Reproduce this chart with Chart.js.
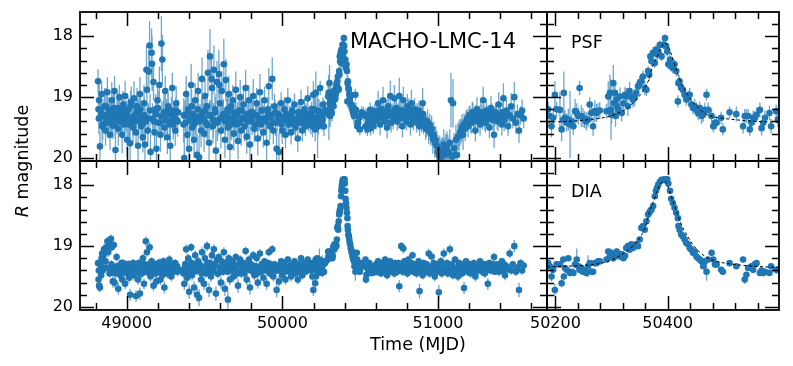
<!DOCTYPE html>
<html>
<head>
<meta charset="utf-8">
<script src="https://cdn.jsdelivr.net/npm/chart.js@4.4.1/dist/chart.umd.min.js"></script>
<style>
html, body { margin: 0; padding: 0; background: #fff; }
#wrap { position: relative; width: 793px; height: 366px; }
#wrap canvas { position: absolute; left: 0; top: 0; }
</style>
</head>
<body>
<div id="wrap">
  <canvas id="psfWide" width="793" height="366"></canvas>
  <canvas id="psfZoom" width="793" height="366"></canvas>
  <canvas id="diaWide" width="793" height="366"></canvas>
  <canvas id="diaZoom" width="793" height="366"></canvas>
</div>
<script>

//////////////////////// data ////////////////////////

// epochs (MJD), shared by the PSF and DIA light curves
var mjd = [
  // first season
  48816, 48819, 48823, 48828, 48833, 48839, 48846, 48851, 48857, 48864,
  48870, 48876, 48881, 48887, 48893, 48899, 48904, 48911, 48917, 48922,
  48928, 48935, 48941, 48946, 48953, 48960, 48966, 48971, 48978, 48984,
  48990, 48997, 49003, 49010, 49016, 49022, 49029, 49035, 49041, 49047,
  49054, 49060, 49066, 49073, 49079, 49085, 49092, 49098, 49104, 49111,
  49117, 49123, 49130, 49136, 49142, 49147, 49153, 49160, 49166, 49172,
  49179, 49185, 49191, 49198, 49204, 49210, 49217, 49223, 49229, 49236,
  49242, 49248, 49255, 49261, 49267, 49274, 49280, 49287, 49293, 49299,
  49306, 49312, 49318, 49324, 49330,
  // after the gap
  49365, 49370, 49376, 49382, 49389, 49395, 49401, 49408, 49414, 49420,
  49427, 49433, 49440, 49446, 49452, 49459, 49465, 49471, 49478, 49484,
  49490, 49497, 49503, 49509, 49516, 49522, 49529, 49535, 49541, 49548,
  49554, 49560, 49567, 49573, 49580, 49586, 49592, 49599, 49605, 49611,
  49618, 49624, 49631, 49637, 49643, 49650, 49656, 49663, 49669, 49675,
  49682, 49688, 49695, 49701, 49708, 49715, 49722, 49729, 49736, 49743,
  49750, 49757, 49764, 49771, 49778, 49785, 49792, 49799, 49806, 49813,
  49820, 49828, 49835, 49842, 49849, 49856, 49863, 49870, 49878, 49885,
  49892, 49899, 49906, 49913, 49920, 49928, 49935, 49942, 49949, 49956,
  49963, 49970, 49978, 49985, 49992, 49999, 50006, 50013, 50020, 50028,
  50035, 50042, 50049, 50056, 50063, 50070, 50078, 50085, 50092, 50099,
  50106, 50113, 50120, 50128, 50135, 50142, 50149, 50156, 50163, 50170,
  50177, 50182,
  // the event
  50187, 50190, 50193, 50196, 50199, 50202, 50208, 50211, 50214, 50215,
  50217, 50220, 50223, 50226, 50229, 50232, 50235, 50238, 50241, 50243,
  50246, 50249, 50252, 50255, 50258, 50261, 50264, 50267, 50270, 50273,
  50276, 50279, 50291, 50294, 50297, 50299, 50300, 50303, 50304, 50306,
  50307, 50309, 50310, 50312, 50315, 50318, 50321, 50324, 50326, 50329,
  50332, 50335, 50338, 50341, 50344, 50347, 50350, 50353, 50356, 50359,
  50362, 50365, 50367, 50369, 50371, 50374, 50377, 50379, 50381, 50383,
  50386, 50389, 50392, 50395, 50397, 50399, 50401, 50404, 50406, 50409,
  50412, 50415, 50418, 50419, 50421, 50424, 50427, 50430, 50433, 50436,
  50439, 50442, 50445, 50448, 50451, 50454, 50457, 50460, 50463, 50466,
  50469, 50472, 50478, 50481, 50484, 50487, 50495, 50498, 50510, 50522,
  50534, 50537, 50540, 50543, 50546, 50549, 50552, 50555, 50558, 50564,
  50567, 50570, 50573, 50581, 50584, 50593, 50596,
  // after the event
  50602, 50608, 50615, 50621, 50628, 50634, 50641, 50647, 50654, 50660,
  50667, 50673, 50680, 50686, 50693, 50699, 50706, 50712, 50719, 50725,
  50732, 50738, 50745, 50751, 50758, 50764, 50771, 50777, 50784, 50790,
  50797, 50803, 50810, 50816, 50823, 50829, 50836, 50842, 50849, 50855,
  50862, 50868, 50875, 50881, 50888, 50894, 50901, 50907, 50914, 50920,
  50927, 50933, 50940, 50946, 50953, 50959, 50966, 50972, 50979, 50985,
  50992, 50998, 51005, 51011, 51018, 51024, 51031, 51037, 51044, 51050,
  51057, 51063, 51070, 51076, 51083, 51089, 51096, 51102, 51109, 51115,
  51122, 51128, 51135, 51141, 51148, 51154, 51161, 51167, 51174, 51180,
  51187, 51193, 51200, 51210, 51220, 51230, 51240, 51250, 51260, 51270,
  51280, 51290, 51300, 51310, 51320, 51330, 51340, 51350, 51360, 51370,
  51380, 51390, 51400, 51410, 51420, 51430, 51440, 51450, 51460, 51470,
  51480, 51490, 51500, 51510, 51520, 51530, 51540, 51550,
  // interleaved epochs (second look per night, baseline only)
  48821, 48831, 48842, 48854, 48867, 48879, 48890, 48902, 48914, 48925,
  48938, 48949, 48963, 48975, 48987, 49000, 49013, 49025, 49038, 49050,
  49063, 49076, 49088, 49101, 49114, 49127, 49139, 49150, 49163, 49176,
  49188, 49201, 49213, 49226, 49239, 49251, 49264, 49277, 49290, 49302,
  49315, 49327, 48836, 48958, 49070,
  49367, 49379, 49392, 49404, 49417, 49430, 49443, 49456, 49468, 49481,
  49494, 49506, 49519, 49532, 49545, 49557, 49570, 49583, 49596, 49608,
  49621, 49634, 49647, 49660, 49672, 49685, 49698, 49712, 49725, 49739,
  49753, 49767, 49781, 49795, 49809, 49824, 49838, 49852, 49867, 49881,
  49896, 49910, 49924, 49938, 49953, 49967, 49981, 49995, 50010, 50024,
  50038, 50053, 50067, 50081, 50096, 50110, 50124, 50138, 50152, 50166,
  50605, 50618, 50631, 50644, 50657, 50670, 50683, 50696, 50709, 50722,
  50735, 50748, 50761, 50774, 50787, 50800, 50813, 50826, 50839, 50852,
  50865, 50878, 50891, 50904, 50917, 51195, 51205, 51215, 51225, 51235,
  51245, 51255, 51265, 51275, 51285, 51295, 51305, 51315, 51325, 51335,
  51345, 51355, 51365, 51375, 51385, 51395, 51405, 51415, 51425, 51435
];

var psfMag = [
  18.74, 19.20, 19.05, 19.81, 19.32, 18.95, 19.45, 19.30, 19.15, 19.55,
  19.38, 18.92, 19.40, 19.22, 19.62, 19.30, 19.05, 19.47, 19.28, 18.90,
  19.87, 19.35, 19.18, 19.52, 19.00, 19.40, 19.27, 19.62, 19.12, 19.45,
  18.98, 19.33, 19.70, 19.20, 19.42, 19.76, 19.08, 19.35, 19.50, 19.02,
  19.30, 19.58, 19.15, 19.80, 19.25, 18.95, 19.48, 19.33, 19.66, 19.10,
  19.78, 19.40, 18.88, 19.55, 18.58, 18.15, 19.90, 18.27, 19.35, 18.75,
  19.58, 19.20, 19.85, 19.05, 19.42, 18.80, 19.62, 18.12, 18.38, 19.30,
  19.50, 18.90, 19.28, 19.66, 19.15, 19.40, 19.80, 19.22, 18.85, 19.45,
  19.32, 19.55, 19.10, 19.38, 19.25,

  19.45, 20.00, 19.30, 18.95, 19.62, 19.20, 19.85, 19.35, 18.80, 19.50,
  19.28, 19.70, 19.05, 19.40, 19.95, 18.90, 19.99, 19.33, 19.55, 18.70,
  19.25, 19.60, 18.98, 19.42, 19.15, 18.60, 19.75, 18.33, 19.30, 18.85,
  19.48, 18.55, 19.20, 19.88, 18.75, 19.38, 18.62, 19.10, 19.55, 18.90,
  19.35, 18.46, 19.70, 18.72, 19.28, 19.50, 18.95, 19.82, 19.15, 19.40,
  19.05, 19.60, 19.30, 18.88, 19.45, 19.72, 19.22, 19.00, 19.55, 19.35,
  19.12, 19.48, 18.85, 19.65, 19.30, 19.05, 19.78, 19.25, 19.40, 18.98,
  19.52, 19.30, 19.10, 19.68, 19.35, 18.92, 19.45, 19.22, 19.58, 19.05,
  19.38, 19.75, 19.20, 18.82, 19.48, 19.30, 18.70, 19.55, 19.15, 19.42,
  19.85, 19.28, 19.90, 19.40, 19.10, 19.55, 19.33, 19.20, 19.62, 19.38,
  19.05, 19.45, 19.30, 19.58, 19.22, 19.40, 19.12, 19.50, 19.35, 19.68,
  19.25, 19.42, 19.08, 19.55, 19.30, 19.20, 19.48, 19.35, 19.02, 19.40,
  19.28, 19.45,

  19.20, 19.31, 19.48, 19.34, 18.96, 19.20, 19.21, 19.53, 19.37, 18.93,
  19.34, 19.42, 19.37, 19.45, 19.40, 19.48, 19.23, 19.26, 19.31, 18.85,
  19.31, 19.34, 19.37, 19.40, 19.37, 19.12, 19.26, 19.48, 19.23, 19.26,
  19.23, 19.22, 19.23, 18.99, 18.93, 19.21, 19.29, 18.77, 19.10, 18.93,
  19.31, 19.04, 19.15, 19.21, 18.99, 19.26, 19.10, 18.96, 18.99, 19.15,
  18.90, 18.99, 19.04, 19.01, 18.93, 18.82, 18.77, 18.74, 18.66, 18.85,
  18.88, 18.57, 18.63, 18.33, 18.41, 18.27, 18.44, 18.22, 18.30, 18.25,
  18.14, 18.33, 18.14, 18.03, 18.16, 18.25, 18.46, 18.38, 18.49, 18.52,
  18.46, 18.57, 19.07, 18.77, 18.74, 18.85, 18.88, 18.96, 19.04, 18.99,
  18.96, 19.12, 19.18, 19.15, 19.21, 19.26, 19.18, 19.31, 19.29, 19.21,
  18.96, 19.21, 19.31, 19.48, 19.42, 19.42, 19.34, 19.53, 19.25, 19.28,
  19.48, 19.31, 19.31, 19.31, 19.53, 19.42, 19.34, 19.34, 19.29, 19.21,
  19.51, 19.42, 19.34, 19.26, 19.48, 19.23, 19.37,

  19.38, 19.25, 19.10, 19.30, 19.45, 19.20, 19.35, 19.05, 19.28, 19.40,
  19.22, 19.50, 19.15, 19.30, 18.98, 19.42, 19.25, 19.35, 19.02, 19.30,
  19.18, 19.40, 19.28, 18.98, 19.35, 19.22, 19.48, 19.05, 19.30, 19.25,
  19.40, 19.15, 19.32, 19.22, 19.45, 19.10, 19.28, 19.38, 19.20, 19.30,
  19.42, 19.25, 19.35, 19.48, 19.30, 19.40, 19.10, 19.45, 19.38, 19.52,
  19.48, 19.40, 19.55, 19.45, 19.60, 19.52, 19.68, 19.62, 19.75, 19.70,
  19.80, 19.90, 19.95, 19.85, 20.00, 19.92, 19.88, 19.78, 19.95, 19.82,
  19.81, 19.90, 19.92, 19.75, 19.05, 19.98, 19.10, 19.84, 19.95, 19.70,
  19.95, 19.65, 19.64, 19.58, 19.56, 19.50, 19.62, 19.45, 19.52, 19.40,
  19.35, 19.48, 19.30, 19.42, 19.25, 19.38, 19.55, 19.20, 19.32, 19.45,
  19.28, 19.05, 19.40, 19.22, 19.35, 19.50, 19.18, 19.30, 19.62, 19.25,
  19.38, 19.12, 19.30, 19.45, 19.02, 19.35, 19.22, 19.48, 19.30, 19.15,
  19.35, 19.00, 19.42, 19.28, 19.55, 19.30, 19.22, 19.35,

  19.35, 19.22, 19.48, 19.30, 19.15, 19.42, 19.28, 19.38, 19.18, 19.45,
  19.32, 19.25, 19.40, 19.20, 19.36, 19.28, 19.45, 19.15, 19.33, 19.40,
  19.26, 19.38, 19.20, 19.44, 19.30, 18.55, 19.35, 19.22, 18.45, 19.40,
  19.28, 19.18, 19.42, 19.32, 19.25, 19.38, 19.20, 19.45, 19.30, 19.35,
  19.22, 19.40, 19.28, 19.35, 19.20,
  19.30, 19.42, 19.25, 19.38, 19.15, 19.45, 19.32, 19.20, 19.40, 19.28,
  19.35, 19.22, 19.46, 19.30, 18.70, 19.38, 19.25, 19.42, 18.80, 19.33,
  19.28, 19.40, 19.20, 19.35, 19.45, 19.25, 19.38, 19.30, 19.42, 19.22,
  19.36, 19.28, 19.40, 19.32, 19.25, 19.45, 19.30, 19.38, 19.22, 19.35,
  19.40, 19.28, 19.33, 19.42, 19.25, 19.38, 19.30, 19.45, 19.35, 19.28,
  19.40, 19.32, 19.25, 19.45, 19.35, 19.30, 19.42, 19.36, 19.28, 19.40,
  19.25, 19.32, 19.20, 19.28, 19.35, 19.22, 19.30, 19.26, 19.33, 19.20,
  19.28, 19.35, 19.22, 19.30, 19.25, 19.32, 19.20, 19.28, 19.35, 19.25,
  19.30, 19.22, 19.33, 19.28, 19.40, 19.38, 19.30, 19.42, 19.25, 19.35,
  19.28, 19.40, 19.32, 19.25, 19.38, 19.30, 19.42, 19.28, 19.35, 19.30,
  19.25, 19.38, 19.32, 19.28, 19.40, 19.30, 19.35, 19.25, 19.38, 19.32
];

var psfErr = [
  0.20, 0.25, 0.30, 0.25, 0.20, 0.22, 0.25, 0.20, 0.30, 0.25,
  0.20, 0.25, 0.28, 0.22, 0.25, 0.20, 0.30, 0.22, 0.20, 0.25,
  0.30, 0.22, 0.25, 0.28, 0.20, 0.22, 0.25, 0.30, 0.20, 0.22,
  0.25, 0.25, 0.28, 0.20, 0.22, 0.30, 0.25, 0.20, 0.25, 0.28,
  0.22, 0.25, 0.30, 0.25, 0.22, 0.28, 0.25, 0.20, 0.25, 0.30,
  0.25, 0.22, 0.30, 0.25, 0.35, 0.40, 0.30, 0.40, 0.25, 0.30,
  0.28, 0.25, 0.30, 0.25, 0.22, 0.30, 0.28, 0.45, 0.40, 0.25,
  0.22, 0.25, 0.25, 0.28, 0.22, 0.25, 0.30, 0.22, 0.25, 0.25,
  0.22, 0.25, 0.28, 0.22, 0.20,

  0.30, 0.35, 0.25, 0.30, 0.28, 0.25, 0.32, 0.25, 0.35, 0.28,
  0.25, 0.30, 0.28, 0.25, 0.35, 0.30, 0.35, 0.22, 0.28, 0.35,
  0.25, 0.30, 0.28, 0.25, 0.22, 0.38, 0.30, 0.45, 0.25, 0.32,
  0.28, 0.40, 0.25, 0.35, 0.35, 0.25, 0.40, 0.28, 0.30, 0.32,
  0.25, 0.42, 0.30, 0.35, 0.25, 0.28, 0.30, 0.35, 0.25, 0.28,
  0.25, 0.28, 0.22, 0.30, 0.25, 0.30, 0.22, 0.28, 0.25, 0.22,
  0.22, 0.25, 0.30, 0.28, 0.20, 0.25, 0.30, 0.20, 0.22, 0.28,
  0.22, 0.20, 0.25, 0.28, 0.20, 0.30, 0.22, 0.20, 0.25, 0.22,
  0.20, 0.28, 0.20, 0.30, 0.22, 0.20, 0.35, 0.22, 0.20, 0.22,
  0.30, 0.20, 0.32, 0.20, 0.18, 0.22, 0.18, 0.20, 0.22, 0.18,
  0.20, 0.18, 0.16, 0.20, 0.18, 0.16, 0.18, 0.20, 0.16, 0.22,
  0.18, 0.16, 0.20, 0.18, 0.16, 0.18, 0.16, 0.15, 0.20, 0.16,
  0.15, 0.16,

  0.12, 0.15, 0.18, 0.14, 0.22, 0.13, 0.30, 0.20, 0.16, 0.35,
  0.12, 0.15, 0.18, 0.55, 0.12, 0.14, 0.20, 0.16, 0.14, 0.12,
  0.18, 0.16, 0.14, 0.15, 0.13, 0.12, 0.14, 0.16, 0.18, 0.15,
  0.13, 0.14, 0.12, 0.25, 0.30, 0.50, 0.15, 0.30, 0.20, 0.15,
  0.18, 0.15, 0.16, 0.14, 0.15, 0.14, 0.15, 0.13, 0.14, 0.16,
  0.15, 0.14, 0.13, 0.14, 0.12, 0.12, 0.12, 0.10, 0.10, 0.12,
  0.10, 0.08, 0.10, 0.10, 0.08, 0.10, 0.08, 0.08, 0.09, 0.08,
  0.07, 0.08, 0.07, 0.06, 0.07, 0.08, 0.08, 0.08, 0.09, 0.09,
  0.08, 0.09, 0.10, 0.10, 0.09, 0.09, 0.10, 0.09, 0.10, 0.10,
  0.11, 0.10, 0.11, 0.12, 0.12, 0.12, 0.11, 0.13, 0.12, 0.12,
  0.10, 0.12, 0.12, 0.10, 0.11, 0.10, 0.10, 0.10, 0.10, 0.12,
  0.12, 0.12, 0.11, 0.12, 0.11, 0.13, 0.12, 0.11, 0.12, 0.12,
  0.12, 0.11, 0.12, 0.12, 0.12, 0.11, 0.12,

  0.15, 0.18, 0.20, 0.15, 0.18, 0.16, 0.15, 0.22, 0.16, 0.15,
  0.16, 0.18, 0.20, 0.15, 0.25, 0.16, 0.15, 0.18, 0.22, 0.15,
  0.16, 0.15, 0.18, 0.30, 0.16, 0.15, 0.18, 0.22, 0.15, 0.16,
  0.15, 0.20, 0.16, 0.15, 0.18, 0.22, 0.15, 0.16, 0.18, 0.15,
  0.16, 0.15, 0.18, 0.16, 0.15, 0.18, 0.25, 0.16, 0.15, 0.18,
  0.18, 0.20, 0.22, 0.18, 0.20, 0.22, 0.25, 0.22, 0.25, 0.22,
  0.25, 0.28, 0.25, 0.22, 0.30, 0.25, 0.22, 0.25, 0.28, 0.22,
  0.25, 0.28, 0.25, 0.22, 0.45, 0.28, 0.40, 0.25, 0.28, 0.25,
  0.28, 0.22, 0.25, 0.22, 0.20, 0.22, 0.25, 0.18, 0.20, 0.18,
  0.16, 0.18, 0.15, 0.16, 0.18, 0.15, 0.18, 0.20, 0.15, 0.18,
  0.16, 0.22, 0.15, 0.18, 0.16, 0.18, 0.20, 0.15, 0.22, 0.16,
  0.15, 0.20, 0.16, 0.18, 0.25, 0.15, 0.18, 0.16, 0.15, 0.22,
  0.16, 0.25, 0.18, 0.16, 0.20, 0.15, 0.18, 0.16,

  0.25, 0.22, 0.28, 0.25, 0.30, 0.22, 0.25, 0.28, 0.25, 0.22,
  0.28, 0.25, 0.22, 0.30, 0.25, 0.22, 0.28, 0.25, 0.30, 0.22,
  0.25, 0.28, 0.22, 0.25, 0.30, 0.40, 0.25, 0.28, 0.45, 0.22,
  0.25, 0.28, 0.22, 0.25, 0.30, 0.22, 0.25, 0.28, 0.22, 0.25,
  0.22, 0.25, 0.28, 0.22, 0.25,
  0.28, 0.25, 0.30, 0.25, 0.28, 0.25, 0.30, 0.28, 0.25, 0.28,
  0.25, 0.30, 0.28, 0.25, 0.35, 0.28, 0.25, 0.30, 0.35, 0.25,
  0.25, 0.22, 0.25, 0.22, 0.25, 0.22, 0.20, 0.22, 0.25, 0.22,
  0.20, 0.22, 0.20, 0.22, 0.20, 0.22, 0.20, 0.18, 0.20, 0.22,
  0.20, 0.18, 0.20, 0.18, 0.20, 0.18, 0.18, 0.20, 0.18, 0.18,
  0.18, 0.16, 0.18, 0.16, 0.18, 0.16, 0.15, 0.16, 0.18, 0.15,
  0.16, 0.15, 0.18, 0.15, 0.16, 0.18, 0.15, 0.16, 0.15, 0.18,
  0.15, 0.16, 0.18, 0.16, 0.15, 0.16, 0.18, 0.15, 0.16, 0.15,
  0.18, 0.16, 0.15, 0.18, 0.16, 0.15, 0.16, 0.18, 0.15, 0.16,
  0.16, 0.15, 0.18, 0.16, 0.15, 0.18, 0.16, 0.15, 0.16, 0.18,
  0.15, 0.18, 0.16, 0.15, 0.16, 0.18, 0.15, 0.16, 0.18, 0.15
];

var diaMag = [
  19.28, 19.55, 19.65, 19.68, 19.32, 19.20, 19.40, 19.15, 19.05, 19.25,
  19.02, 18.92, 19.10, 18.95, 19.38, 18.88, 19.02, 19.58, 18.98, 19.60,
  19.45, 19.18, 19.40, 19.70, 19.35, 19.48, 19.28, 19.55, 19.40, 19.35,
  19.62, 19.30, 19.45, 19.38, 19.52, 19.80, 19.33, 19.42, 19.28, 19.48,
  19.35, 19.82, 19.40, 19.55, 19.36, 19.78, 19.30, 19.45, 19.20, 19.62,
  19.38, 18.92, 19.10, 19.42, 19.30, 19.02, 19.50, 19.25, 19.38, 19.65,
  19.32, 19.45, 19.58, 19.35, 19.28, 19.40, 19.55, 19.33, 19.48, 19.25,
  19.68, 19.38, 19.30, 19.45, 19.40, 19.22, 19.35, 19.50, 19.30, 19.42,
  19.35, 19.28, 19.40, 19.33, 19.38,

  19.45, 19.62, 19.30, 19.05, 19.52, 19.20, 19.75, 19.38, 19.02, 19.48,
  19.30, 19.68, 19.15, 19.40, 19.80, 19.25, 19.85, 19.35, 19.55, 19.10,
  19.38, 19.62, 19.20, 19.45, 19.00, 19.33, 19.72, 19.28, 19.50, 19.15,
  19.40, 19.05, 19.30, 19.78, 19.22, 19.45, 19.18, 19.35, 19.60, 19.25,
  19.42, 19.10, 19.70, 19.28, 19.38, 19.88, 19.20, 19.55, 19.30, 19.40,
  19.25, 19.50, 19.35, 19.18, 19.42, 19.65, 19.30, 19.22, 19.45, 19.38,
  19.28, 19.45, 19.08, 19.55, 19.35, 19.22, 19.68, 19.30, 19.40, 19.15,
  19.48, 19.33, 19.20, 19.60, 19.35, 19.12, 19.42, 19.30, 19.52, 19.25,
  19.38, 19.62, 19.28, 19.10, 19.45, 19.35, 19.05, 19.50, 19.30, 19.40,
  19.72, 19.33, 19.58, 19.40, 19.25, 19.48, 19.35, 19.28, 19.55, 19.38,
  19.22, 19.42, 19.35, 19.50, 19.30, 19.40, 19.25, 19.45, 19.38, 19.55,
  19.30, 19.40, 19.20, 19.48, 19.35, 19.28, 19.42, 19.36, 19.22, 19.38,
  19.32, 19.40,

  19.28, 19.33, 19.50, 19.39, 19.72, 19.30, 19.30, 19.61, 19.22, 19.50,
  19.36, 19.39, 19.20, 19.44, 19.42, 19.44, 19.30, 19.22, 19.33, 19.39,
  19.36, 19.42, 19.40, 19.44, 19.33, 19.28, 19.42, 19.42, 19.28, 19.28,
  19.25, 19.25, 19.22, 19.09, 19.17, 19.11, 19.14, 19.20, 19.17, 19.17,
  19.14, 19.09, 19.11, 19.14, 19.17, 19.13, 19.20, 19.16, 19.03, 19.00,
  19.06, 18.97, 19.03, 19.00, 18.97, 19.00, 18.89, 18.70, 18.67, 18.73,
  18.59, 18.48, 18.45, 18.42, 18.40, 18.34, 18.18, 18.09, 18.04, 17.99,
  17.94, 17.91, 17.91, 17.90, 17.92, 17.90, 17.97, 18.09, 18.22, 18.29,
  18.37, 18.45, 18.54, 18.67, 18.73, 18.81, 18.84, 18.89, 18.95, 18.97,
  19.03, 19.06, 19.11, 19.09, 19.17, 19.20, 19.22, 19.25, 19.33, 19.25,
  19.42, 19.22, 19.11, 19.22, 19.30, 19.30, 19.39, 19.42, 19.28, 19.33,
  19.22, 19.55, 19.47, 19.36, 19.35, 19.33, 19.39, 19.30, 19.28, 19.44,
  19.40, 19.44, 19.42, 19.44, 19.33, 19.39, 19.39,

  19.30, 19.42, 19.25, 19.38, 19.33, 19.45, 19.28, 19.40, 19.35, 19.22,
  19.38, 19.48, 19.30, 19.42, 19.25, 19.35, 19.40, 19.30, 19.45, 19.28,
  19.35, 19.42, 19.28, 19.66, 19.32, 19.00, 19.38, 19.04, 19.25, 19.35,
  19.30, 19.45, 19.22, 19.38, 19.40, 19.28, 19.15, 19.42, 19.35, 19.30,
  19.45, 19.38, 19.25, 19.74, 19.40, 19.32, 19.48, 19.28, 19.36, 19.42,
  19.30, 19.38, 19.12, 19.45, 19.35, 19.17, 19.40, 19.28, 19.50, 19.35,
  19.42, 19.30, 19.76, 19.38, 19.25, 19.45, 19.35, 19.12, 19.40, 19.32,
  19.28, 19.45, 19.35, 19.05, 19.40, 19.30, 19.48, 19.36, 19.22, 19.42,
  19.35, 19.50, 19.28, 19.40, 19.33, 19.45, 19.30, 19.69, 19.38, 19.25,
  19.42, 19.35, 19.30, 19.45, 19.38, 19.28, 19.50, 19.35, 19.40, 19.25,
  19.38, 19.30, 19.45, 19.35, 19.62, 19.28, 19.40, 19.32, 19.18, 19.38,
  19.30, 19.42, 19.35, 19.25, 19.40, 19.48, 19.33, 19.38, 19.12, 19.40,
  19.30, 19.00, 19.42, 19.35, 19.72, 19.28, 19.40, 19.32,

  19.40, 19.30, 19.12, 19.05, 19.35, 19.00, 19.45, 19.30, 19.38, 19.42,
  19.33, 19.45, 19.38, 19.28, 19.42, 19.35, 19.30, 19.48, 19.36, 19.32,
  19.40, 19.28, 19.45, 19.35, 19.30, 19.42, 19.38, 19.33, 19.46, 19.30,
  19.36, 19.42, 19.28, 19.40, 19.35, 19.30, 19.45, 19.38, 19.32, 19.40,
  19.35, 19.42, 19.48, 19.40, 19.38,
  19.38, 19.30, 19.45, 19.35, 19.28, 19.42, 19.33, 19.40, 19.30, 19.45,
  19.35, 19.40, 19.28, 19.38, 19.42, 19.33, 19.30, 19.45, 19.36, 19.40,
  19.32, 19.38, 19.42, 19.30, 19.36, 19.40, 19.33, 19.45, 19.30, 19.38,
  19.42, 19.35, 19.30, 19.40, 19.38, 19.33, 19.45, 19.36, 19.30, 19.40,
  19.35, 19.42, 19.30, 19.38, 19.33, 19.40, 19.36, 19.30, 19.42, 19.35,
  19.38, 19.32, 19.40, 19.35, 19.30, 19.42, 19.36, 19.33, 19.38, 19.30,
  19.35, 19.30, 19.40, 19.33, 19.28, 19.42, 19.36, 19.30, 19.38, 19.33,
  19.40, 19.35, 19.30, 19.42, 19.33, 19.38, 19.30, 19.36, 19.40, 19.32,
  19.38, 19.30, 19.35, 19.42, 19.33, 19.36, 19.30, 19.40, 19.35, 19.42,
  19.33, 19.38, 19.30, 19.36, 19.42, 19.35, 19.30, 19.40, 19.33, 19.38,
  19.36, 19.30, 19.42, 19.35, 19.38, 19.32, 19.40, 19.35, 19.30, 19.38
];

var diaErr = [
  0.06, 0.08, 0.10, 0.08, 0.06, 0.07, 0.08, 0.06, 0.07, 0.08,
  0.06, 0.07, 0.08, 0.06, 0.08, 0.07, 0.06, 0.10, 0.07, 0.08,
  0.10, 0.07, 0.08, 0.10, 0.07, 0.08, 0.06, 0.09, 0.07, 0.08,
  0.09, 0.07, 0.08, 0.06, 0.08, 0.10, 0.07, 0.08, 0.07, 0.09,
  0.07, 0.10, 0.08, 0.09, 0.07, 0.10, 0.07, 0.08, 0.07, 0.09,
  0.07, 0.08, 0.08, 0.09, 0.07, 0.08, 0.08, 0.07, 0.08, 0.09,
  0.07, 0.08, 0.09, 0.07, 0.07, 0.08, 0.09, 0.07, 0.08, 0.07,
  0.10, 0.07, 0.07, 0.08, 0.07, 0.07, 0.08, 0.08, 0.07, 0.08,
  0.07, 0.07, 0.08, 0.07, 0.07,

  0.08, 0.10, 0.07, 0.08, 0.09, 0.07, 0.12, 0.08, 0.07, 0.09,
  0.07, 0.10, 0.08, 0.07, 0.12, 0.08, 0.14, 0.07, 0.09, 0.08,
  0.07, 0.10, 0.08, 0.07, 0.08, 0.07, 0.12, 0.07, 0.09, 0.08,
  0.07, 0.08, 0.07, 0.12, 0.07, 0.08, 0.07, 0.07, 0.10, 0.07,
  0.07, 0.08, 0.12, 0.07, 0.07, 0.15, 0.07, 0.09, 0.07, 0.08,
  0.07, 0.09, 0.07, 0.07, 0.08, 0.12, 0.07, 0.07, 0.08, 0.07,
  0.06, 0.08, 0.07, 0.09, 0.06, 0.07, 0.12, 0.06, 0.07, 0.07,
  0.08, 0.06, 0.07, 0.10, 0.06, 0.07, 0.07, 0.06, 0.08, 0.06,
  0.06, 0.10, 0.06, 0.07, 0.07, 0.06, 0.07, 0.08, 0.06, 0.07,
  0.12, 0.06, 0.09, 0.06, 0.06, 0.08, 0.06, 0.06, 0.09, 0.06,
  0.06, 0.07, 0.06, 0.08, 0.06, 0.06, 0.06, 0.07, 0.06, 0.08,
  0.05, 0.06, 0.06, 0.07, 0.05, 0.06, 0.06, 0.05, 0.06, 0.06,
  0.05, 0.06,

  0.05, 0.06, 0.08, 0.05, 0.10, 0.05, 0.04, 0.07, 0.06, 0.05,
  0.05, 0.06, 0.05, 0.06, 0.04, 0.05, 0.05, 0.18, 0.05, 0.06,
  0.07, 0.05, 0.05, 0.06, 0.18, 0.05, 0.05, 0.05, 0.05, 0.04,
  0.05, 0.06, 0.05, 0.06, 0.05, 0.07, 0.05, 0.06, 0.05, 0.05,
  0.06, 0.05, 0.06, 0.05, 0.05, 0.05, 0.04, 0.05, 0.05, 0.05,
  0.04, 0.05, 0.04, 0.04, 0.04, 0.04, 0.04, 0.04, 0.04, 0.04,
  0.03, 0.03, 0.03, 0.03, 0.03, 0.03, 0.03, 0.03, 0.03, 0.03,
  0.03, 0.03, 0.03, 0.03, 0.03, 0.03, 0.03, 0.03, 0.03, 0.03,
  0.03, 0.03, 0.03, 0.03, 0.03, 0.03, 0.03, 0.03, 0.03, 0.03,
  0.03, 0.04, 0.04, 0.04, 0.04, 0.04, 0.04, 0.04, 0.04, 0.05,
  0.15, 0.05, 0.05, 0.05, 0.05, 0.05, 0.05, 0.05, 0.05, 0.05,
  0.05, 0.07, 0.05, 0.05, 0.05, 0.05, 0.05, 0.05, 0.05, 0.05,
  0.05, 0.05, 0.05, 0.05, 0.05, 0.06, 0.06,

  0.06, 0.07, 0.06, 0.06, 0.07, 0.06, 0.06, 0.07, 0.06, 0.06,
  0.06, 0.07, 0.06, 0.06, 0.06, 0.07, 0.06, 0.06, 0.07, 0.06,
  0.06, 0.07, 0.06, 0.10, 0.06, 0.07, 0.06, 0.08, 0.06, 0.06,
  0.06, 0.07, 0.06, 0.06, 0.07, 0.06, 0.06, 0.07, 0.06, 0.06,
  0.07, 0.06, 0.06, 0.12, 0.07, 0.06, 0.07, 0.06, 0.06, 0.07,
  0.06, 0.07, 0.08, 0.07, 0.06, 0.07, 0.06, 0.06, 0.08, 0.06,
  0.07, 0.06, 0.12, 0.06, 0.07, 0.07, 0.06, 0.08, 0.07, 0.06,
  0.06, 0.07, 0.06, 0.08, 0.07, 0.06, 0.07, 0.06, 0.06, 0.07,
  0.06, 0.08, 0.06, 0.07, 0.06, 0.07, 0.06, 0.10, 0.06, 0.06,
  0.07, 0.06, 0.06, 0.07, 0.06, 0.06, 0.08, 0.06, 0.07, 0.06,
  0.06, 0.06, 0.07, 0.06, 0.10, 0.06, 0.07, 0.06, 0.07, 0.06,
  0.06, 0.07, 0.06, 0.06, 0.07, 0.08, 0.06, 0.06, 0.08, 0.07,
  0.06, 0.10, 0.07, 0.06, 0.12, 0.06, 0.07, 0.06,

  0.07, 0.08, 0.07, 0.08, 0.07, 0.08, 0.07, 0.07, 0.08, 0.07,
  0.07, 0.08, 0.07, 0.07, 0.08, 0.07, 0.07, 0.08, 0.07, 0.07,
  0.08, 0.07, 0.07, 0.08, 0.07, 0.07, 0.08, 0.07, 0.07, 0.08,
  0.07, 0.07, 0.08, 0.07, 0.07, 0.08, 0.07, 0.07, 0.08, 0.07,
  0.07, 0.08, 0.07, 0.07, 0.08,
  0.07, 0.08, 0.07, 0.07, 0.08, 0.07, 0.07, 0.08, 0.07, 0.07,
  0.08, 0.07, 0.07, 0.08, 0.07, 0.07, 0.08, 0.07, 0.07, 0.08,
  0.07, 0.07, 0.06, 0.07, 0.07, 0.06, 0.07, 0.07, 0.06, 0.07,
  0.06, 0.07, 0.06, 0.06, 0.07, 0.06, 0.06, 0.07, 0.06, 0.06,
  0.06, 0.06, 0.07, 0.06, 0.06, 0.06, 0.07, 0.06, 0.06, 0.06,
  0.06, 0.05, 0.06, 0.06, 0.05, 0.06, 0.06, 0.05, 0.06, 0.06,
  0.06, 0.07, 0.06, 0.06, 0.07, 0.06, 0.06, 0.07, 0.06, 0.06,
  0.07, 0.06, 0.06, 0.07, 0.06, 0.06, 0.07, 0.06, 0.06, 0.07,
  0.06, 0.06, 0.07, 0.06, 0.06, 0.07, 0.06, 0.06, 0.07, 0.06,
  0.06, 0.07, 0.06, 0.06, 0.07, 0.06, 0.06, 0.07, 0.06, 0.06,
  0.07, 0.06, 0.06, 0.07, 0.06, 0.06, 0.07, 0.06, 0.06, 0.07
];

// dashed model curves in the zoom panels
var psfModelT   = [50185, 50220, 50260, 50290, 50310, 50330, 50345, 50356, 50365, 50373,
                   50380, 50386, 50391, 50395, 50400, 50405, 50410, 50416, 50421, 50430,
                   50440, 50450, 50465, 50480, 50500, 50530, 50560, 50598];
var psfModelMag = [19.41, 19.40, 19.37, 19.33, 19.27, 19.17, 19.03, 18.90, 18.74, 18.50,
                   18.36, 18.23, 18.14, 18.11, 18.15, 18.26, 18.40, 18.57, 18.70, 18.88,
                   19.03, 19.14, 19.26, 19.32, 19.35, 19.38, 19.40, 19.41];
var diaModelT   = [50185, 50220, 50260, 50290, 50310, 50330, 50345, 50355, 50362, 50368,
                   50374, 50380, 50386, 50392, 50397, 50403, 50409, 50415, 50421, 50428,
                   50436, 50445, 50457, 50470, 50487, 50510, 50540, 50570, 50598];
var diaModelMag = [19.34, 19.33, 19.31, 19.26, 19.18, 19.06, 18.93, 18.79, 18.64, 18.42,
                   18.28, 18.12, 17.99, 17.93, 17.96, 18.09, 18.26, 18.42, 18.57, 18.72,
                   18.85, 18.98, 19.10, 19.19, 19.25, 19.29, 19.32, 19.34, 19.35];

// ticks
var magTicks   = [18, 19, 20];
var magMinor   = [17.8, 18.2, 18.4, 18.6, 18.8, 19.2, 19.4, 19.6, 19.8];
var wideTicks  = [49000, 50000, 51000];
var wideMinor  = [48800, 49200, 49400, 49600, 49800, 50200, 50400, 50600, 50800, 51200, 51400, 51600];
var zoomTicks  = [50200, 50400];
var zoomMinor  = [50240, 50280, 50320, 50360, 50440, 50480, 50520, 50560];

//////////////////////// layout ////////////////////////

var W = 793, H = 366;
var colL = 80, colM = 547, colR = 779;
var rowT = 12, rowM = 161, rowB = 310;
var magRange = [17.6, 20.05];
var wideRange = [48700, 51700];
var zoomRange = [50185, 50598];
var blue = '#1f77b4';
var FONT = 'DejaVu Sans';
var yAxisW = 60, xAxisH = 40;

Chart.defaults.font.family = FONT;
Chart.defaults.color = '#000';

if (psfMag.length != mjd.length || psfErr.length != mjd.length ||
    diaMag.length != mjd.length || diaErr.length != mjd.length) {
    console.log('length mismatch', mjd.length, psfMag.length, psfErr.length, diaMag.length, diaErr.length);
}

function points(mags) {
    return mjd.map((t, i) => ({ x: t, y: mags[i] }));
}
function curve(ts, ms) {
    return ts.map((t, i) => ({ x: t, y: ms[i] }));
}

// vertical error bars, drawn under the markers
var errorBars = {
    id: 'errorBars',
    beforeDatasetsDraw(chart) {
        const ctx = chart.ctx, a = chart.chartArea;
        const xs = chart.scales.x, ys = chart.scales.y;
        ctx.save();
        ctx.beginPath();
        ctx.rect(a.left, a.top, a.right - a.left, a.bottom - a.top);
        ctx.clip();
        ctx.strokeStyle = 'rgba(31,119,180,0.65)';
        ctx.lineWidth = 1.3;
        chart.data.datasets.forEach(ds => {
            if (!ds.errors) return;
            ctx.beginPath();
            ds.data.forEach((p, i) => {
                const x = xs.getPixelForValue(p.x);
                if (x < a.left - 4 || x > a.right + 4) return;
                ctx.moveTo(x, ys.getPixelForValue(p.y - ds.errors[i]));
                ctx.lineTo(x, ys.getPixelForValue(p.y + ds.errors[i]));
            });
            ctx.stroke();
        });
        ctx.restore();
    }
};

// box, inward ticks on all four sides, and panel texts
var frame = {
    id: 'frame',
    afterDraw(chart) {
        const o = chart.options.plugins.frame;
        const ctx = chart.ctx, a = chart.chartArea;
        const xs = chart.scales.x, ys = chart.scales.y;
        const big = 14, small = 7;
        ctx.save();
        ctx.strokeStyle = '#000';
        ctx.lineWidth = 1.5;
        ctx.beginPath();
        function xt(vals, len) {
            vals.forEach(v => {
                const x = Math.round(xs.getPixelForValue(v)) + 0.5;
                if (x < a.left || x > a.right) return;
                ctx.moveTo(x, a.top); ctx.lineTo(x, a.top + len);
                ctx.moveTo(x, a.bottom); ctx.lineTo(x, a.bottom - len);
            });
        }
        function yt(vals, len) {
            vals.forEach(v => {
                const y = Math.round(ys.getPixelForValue(v)) + 0.5;
                if (y < a.top || y > a.bottom) return;
                ctx.moveTo(a.left, y); ctx.lineTo(a.left + len, y);
                ctx.moveTo(a.right, y); ctx.lineTo(a.right - len, y);
            });
        }
        xt(o.xMajor, big); xt(o.xMinor, small);
        yt(magTicks, big); yt(magMinor, small);
        ctx.stroke();
        ctx.lineWidth = 1.8;
        ctx.strokeRect(a.left, a.top, a.right - a.left, a.bottom - a.top);

        ctx.fillStyle = '#000';
        ctx.textBaseline = 'alphabetic';
        ctx.textAlign = 'left';
        if (o.label) {
            ctx.font = o.label.size + 'px "' + FONT + '"';
            ctx.fillText(o.label.text, a.left + o.label.dx, a.top + o.label.dy);
        }
        if (o.axisTitles) {
            ctx.font = '17.5px "' + FONT + '"';
            ctx.textAlign = 'center';
            ctx.fillText('Time (MJD)', 418, 350);
            // y title: italic R + magnitude, rotated
            ctx.translate(28, 161);
            ctx.rotate(-Math.PI / 2);
            const fi = 'italic 17.5px "' + FONT + '"', fn = '17.5px "' + FONT + '"';
            ctx.font = fi; const wR = ctx.measureText('R').width;
            ctx.font = fn; const wM = ctx.measureText(' magnitude').width;
            const x0 = -(wR + wM) / 2;
            ctx.textAlign = 'left';
            ctx.font = fi; ctx.fillText('R', x0, 0);
            ctx.font = fn; ctx.fillText(' magnitude', x0 + wR, 0);
        }
        ctx.restore();
    }
};

function panel(id, o) {
    const datasets = [];
    if (o.modelT) {
        datasets.push({
            type: 'line',
            data: curve(o.modelT, o.modelMag),
            borderColor: '#000',
            borderWidth: 1,
            borderDash: [3, 2.5],
            pointRadius: 0,
            fill: false,
            cubicInterpolationMode: 'monotone',
            clip: 0,
            order: 0
        });
    }
    datasets.push({
        data: points(o.mags),
        errors: o.errs,
        pointRadius: 3.3,
        pointBackgroundColor: blue,
        pointBorderWidth: 0,
        showLine: false,
        clip: 0,
        order: 1
    });
    const yw = o.showY ? yAxisW : 0;
    const xh = o.showX ? xAxisH : 0;
    return new Chart(document.getElementById(id), {
        type: 'scatter',
        data: { datasets: datasets },
        options: {
            responsive: false,
            animation: false,
            devicePixelRatio: 1,
            events: [],
            layout: {
                autoPadding: false,
                padding: { left: o.left - yw, right: W - o.right, top: o.top, bottom: H - o.bottom - xh }
            },
            plugins: {
                legend: { display: false },
                tooltip: { enabled: false },
                frame: { xMajor: o.xMajor, xMinor: o.xMinor, label: o.label, axisTitles: o.axisTitles }
            },
            scales: {
                x: {
                    type: 'linear',
                    min: o.xRange[0], max: o.xRange[1],
                    grid: { display: false, drawTicks: false },
                    border: { display: false },
                    ticks: {
                        display: o.showX,
                        padding: 4,
                        maxRotation: 0,
                        autoSkip: false,
                        font: { size: 16 },
                        callback: v => String(v)
                    },
                    afterBuildTicks: s => { s.ticks = o.xMajor.map(v => ({ value: v })); },
                    afterFit: s => { s.height = xh; s.paddingLeft = 0; s.paddingRight = 0; }
                },
                y: {
                    type: 'linear',
                    reverse: true,
                    min: magRange[0], max: magRange[1],
                    grid: { display: false, drawTicks: false },
                    border: { display: false },
                    ticks: {
                        display: o.showY,
                        padding: 7,
                        autoSkip: false,
                        font: { size: 16 },
                        callback: v => String(v)
                    },
                    afterBuildTicks: s => { s.ticks = magTicks.map(v => ({ value: v })); },
                    afterFit: s => { s.width = yw; s.paddingTop = 0; s.paddingBottom = 0; }
                }
            }
        },
        plugins: [errorBars, frame]
    });
}

panel('psfWide', {
    left: colL, right: colM, top: rowT, bottom: rowM,
    xRange: wideRange, xMajor: wideTicks, xMinor: wideMinor,
    showX: false, showY: true, mags: psfMag, errs: psfErr,
    label: { text: 'MACHO-LMC-14', size: 21, dx: 270, dy: 36 }
});
panel('psfZoom', {
    left: colM, right: colR, top: rowT, bottom: rowM,
    xRange: zoomRange, xMajor: zoomTicks, xMinor: zoomMinor,
    showX: false, showY: false, mags: psfMag, errs: psfErr,
    modelT: psfModelT, modelMag: psfModelMag,
    label: { text: 'PSF', size: 17.5, dx: 24, dy: 36 }
});
panel('diaWide', {
    left: colL, right: colM, top: rowM, bottom: rowB,
    xRange: wideRange, xMajor: wideTicks, xMinor: wideMinor,
    showX: true, showY: true, mags: diaMag, errs: diaErr,
    axisTitles: true
});
panel('diaZoom', {
    left: colM, right: colR, top: rowM, bottom: rowB,
    xRange: zoomRange, xMajor: zoomTicks, xMinor: zoomMinor,
    showX: true, showY: false, mags: diaMag, errs: diaErr,
    modelT: diaModelT, modelMag: diaModelMag,
    label: { text: 'DIA', size: 17.5, dx: 24, dy: 36 }
});

</script>
</body>
</html>
